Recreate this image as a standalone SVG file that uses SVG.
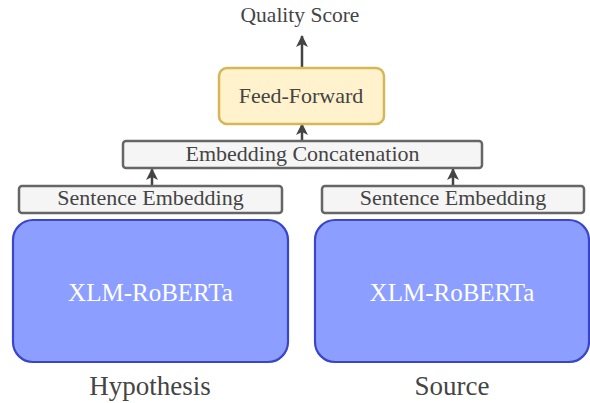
<svg xmlns="http://www.w3.org/2000/svg" width="590" height="403" viewBox="0 0 590 403">
<defs>
<style>
text{font-family:"Liberation Serif","Times New Roman",serif;text-anchor:middle;fill:#444}
.g{fill:#f5f5f5;stroke:#666;stroke-width:2.5}
.x{fill:#8c9eff;stroke:#3a45c9;stroke-width:2.2}
.ff{fill:#fff2cc;stroke:#d6b656;stroke-width:2.5}
.c{stroke:#444;stroke-width:2.5;fill:none}
</style>
<marker id="ah" markerWidth="12" markerHeight="12" viewBox="0 0 12 12" refX="11" refY="6" orient="auto" markerUnits="userSpaceOnUse">
<path d="M0,0 L12,6 L0,12 L3,6 Z" fill="#444"/>
</marker>
</defs>
<g id="connectors">
<path class="c" d="M302,67 L302,36" marker-end="url(#ah)"/>
<path class="c" d="M302,140 L302,124" marker-end="url(#ah)"/>
<path class="c" d="M152,186 L152,169" marker-end="url(#ah)"/>
<path class="c" d="M453,186 L453,169" marker-end="url(#ah)"/>
</g>
<g id="quality-score"><text x="300" y="22" font-size="21.5">Quality Score</text></g>
<g id="feed-forward">
<rect class="ff" x="219" y="68" width="165" height="56" rx="8"/>
<text x="301" y="103" font-size="22">Feed-Forward</text>
</g>
<g id="concat">
<rect class="g" x="123" y="141" width="359" height="27" rx="3"/>
<text x="302.5" y="161" font-size="22">Embedding Concatenation</text>
</g>
<g id="sent-left">
<rect class="g" x="19" y="186" width="263" height="27" rx="3"/>
<text x="150.5" y="205" font-size="22">Sentence Embedding</text>
</g>
<g id="sent-right">
<rect class="g" x="322" y="186" width="262" height="27" rx="3"/>
<text x="453" y="205" font-size="22">Sentence Embedding</text>
</g>
<g id="xlm-left">
<rect class="x" x="13" y="220" width="275" height="142" rx="20"/>
<text x="150.5" y="301" font-size="25" style="fill:#fff">XLM-RoBERTa</text>
</g>
<g id="xlm-right">
<rect class="x" x="315" y="220" width="274" height="142" rx="20"/>
<text x="452" y="301" font-size="25" style="fill:#fff">XLM-RoBERTa</text>
</g>
<g id="hypothesis"><text x="150" y="395" font-size="27">Hypothesis</text></g>
<g id="source"><text x="452" y="395" font-size="27">Source</text></g>
</svg>
